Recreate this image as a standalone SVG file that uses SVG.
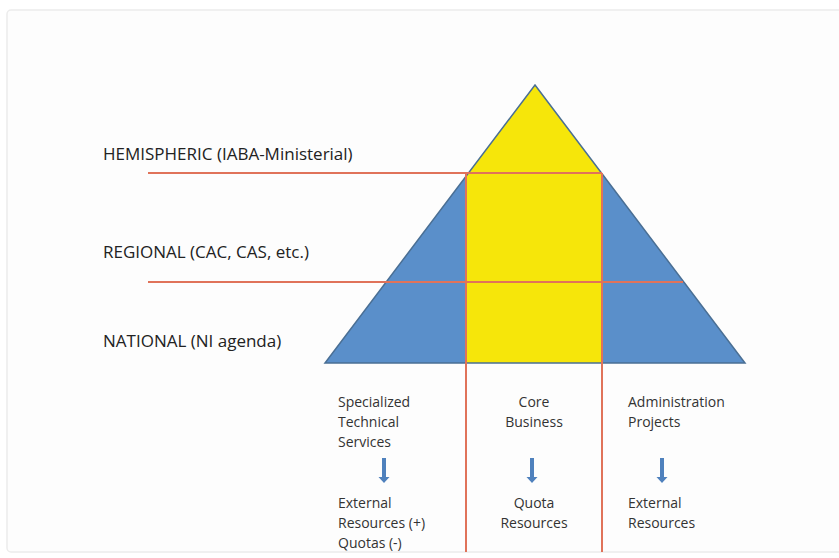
<svg xmlns="http://www.w3.org/2000/svg" width="839" height="558" viewBox="0 0 839 558">
<style>
.lbl{font-family:"Open Sans","Liberation Sans",sans-serif;font-size:17px;fill:#222}
.sm{font-family:"Open Sans","Liberation Sans",sans-serif;font-size:14px;fill:#333}
.red{stroke:#e0735a;stroke-width:2;fill:none}
.arr{fill:#4f81bd}
</style>
<rect x="0" y="0" width="839" height="558" fill="#ffffff"/>
<rect x="7" y="10" width="840" height="542" rx="4" fill="#fdfdfd" stroke="#ececec" stroke-width="1.5"/>
<g id="pyramid">
<polygon points="535,85 745,363 325,363" fill="#5a8fca"/>
<polygon points="535,85 601.5,173 602,173 602,363 466,363 466,173 468.5,173" fill="#f6e60a"/>
<polygon points="535,85 745,363 325,363" fill="none" stroke="#4a6f94" stroke-width="1.5"/>
</g>
<g id="connectors">
<line class="red" x1="148" y1="173" x2="602" y2="173"/>
<line class="red" x1="148" y1="282" x2="683" y2="282"/>
<line class="red" x1="466" y1="173" x2="466" y2="552"/>
<line class="red" x1="602" y1="173" x2="602" y2="552"/>
</g>
<g id="level-hemispheric"><text class="lbl" x="103" y="160">HEMISPHERIC (IABA-Ministerial)</text></g>
<g id="level-regional"><text class="lbl" x="103" y="258">REGIONAL (CAC, CAS, etc.)</text></g>
<g id="level-national"><text class="lbl" x="103" y="347">NATIONAL (NI agenda)</text></g>
<g id="col-specialized">
<text class="sm" x="338" y="407">Specialized</text>
<text class="sm" x="338" y="427">Technical</text>
<text class="sm" x="338" y="447">Services</text>
<path class="arr" d="M382,458 h4 v19 h3.5 l-5.5,6 l-5.5,-6 h3.5 z"/>
<text class="sm" x="338" y="508">External</text>
<text class="sm" x="338" y="528">Resources (+)</text>
<text class="sm" x="338" y="548">Quotas (-)</text>
</g>
<g id="col-core">
<text class="sm" x="534" y="407" text-anchor="middle">Core</text>
<text class="sm" x="534" y="427" text-anchor="middle">Business</text>
<path class="arr" d="M530,458 h4 v19 h3.5 l-5.5,6 l-5.5,-6 h3.5 z"/>
<text class="sm" x="534" y="508" text-anchor="middle">Quota</text>
<text class="sm" x="534" y="528" text-anchor="middle">Resources</text>
</g>
<g id="col-admin">
<text class="sm" x="628" y="407">Administration</text>
<text class="sm" x="628" y="427">Projects</text>
<path class="arr" d="M660,458 h4 v19 h3.5 l-5.5,6 l-5.5,-6 h3.5 z"/>
<text class="sm" x="628" y="508">External</text>
<text class="sm" x="628" y="528">Resources</text>
</g>
</svg>
